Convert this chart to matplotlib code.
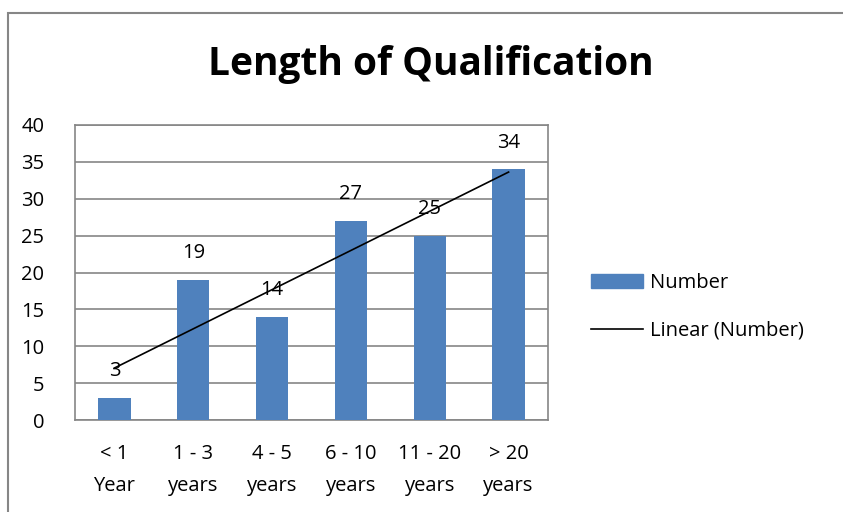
import matplotlib.pyplot as plt
import numpy as np
from matplotlib.patches import Rectangle
from matplotlib.lines import Line2D

categories = ['< 1\nYear', '1 - 3\nyears', '4 - 5\nyears', '6 - 10\nyears', '11 - 20\nyears', '> 20\nyears']
values = [3, 19, 14, 27, 25, 34]

plt.rcParams['font.family'] = ['Open Sans', 'DejaVu Sans']
fs = 14.5

fig = plt.figure(figsize=(8.43, 5.12), dpi=100)
fig.patches.append(Rectangle((8 / 843, -0.1), 1.2, (512 - 13) / 512 + 0.1,
                             transform=fig.transFigure, fill=False,
                             edgecolor='#868686', linewidth=1.5))

ax = fig.add_axes([75 / 843, 92 / 512, 473 / 843, 295 / 512])
x = np.arange(len(values))
ax.bar(x, values, width=0.41, color='#4F81BD', zorder=3)

for xi, v in zip(x, values):
    ax.text(xi, v + 3.6, str(v), ha='center', va='center', fontsize=fs)

# linear trend
k, b = np.polyfit(x + 1, values, 1)
ax.plot(x, k * (x + 1) + b, color='black', linewidth=1.2, zorder=4)

ax.set_xlim(-0.5, len(values) - 0.5)
ax.set_ylim(0, 40)
ax.set_yticks(range(0, 41, 5))
ax.set_xticks(x)
ax.set_xticklabels(categories, fontsize=fs, linespacing=1.85)
ax.tick_params(axis='y', labelsize=fs, length=0, pad=22)
ax.tick_params(axis='x', length=0, pad=17)
ax.grid(axis='y', color='#868686', linewidth=1.2, zorder=0)
for s in ax.spines.values():
    s.set_color('#868686')
    s.set_linewidth(1.2)

fig.text(431 / 843, 1 - 65 / 512, 'Length of Qualification', ha='center', va='center',
         fontsize=28, fontweight='bold')

handles = [Rectangle((0, 0), 1, 1, color='#4F81BD'),
           Line2D([0], [0], color='black', linewidth=1.2)]
fig.legend(handles, ['Number', 'Linear (Number)'], loc='center left',
           bbox_to_anchor=(573 / 843, 1 - 307 / 512), frameon=False,
           fontsize=fs, handlelength=2.6, handleheight=0.7, labelspacing=1.35,
           handletextpad=0.3)

fig.savefig('out.png', dpi=100)
